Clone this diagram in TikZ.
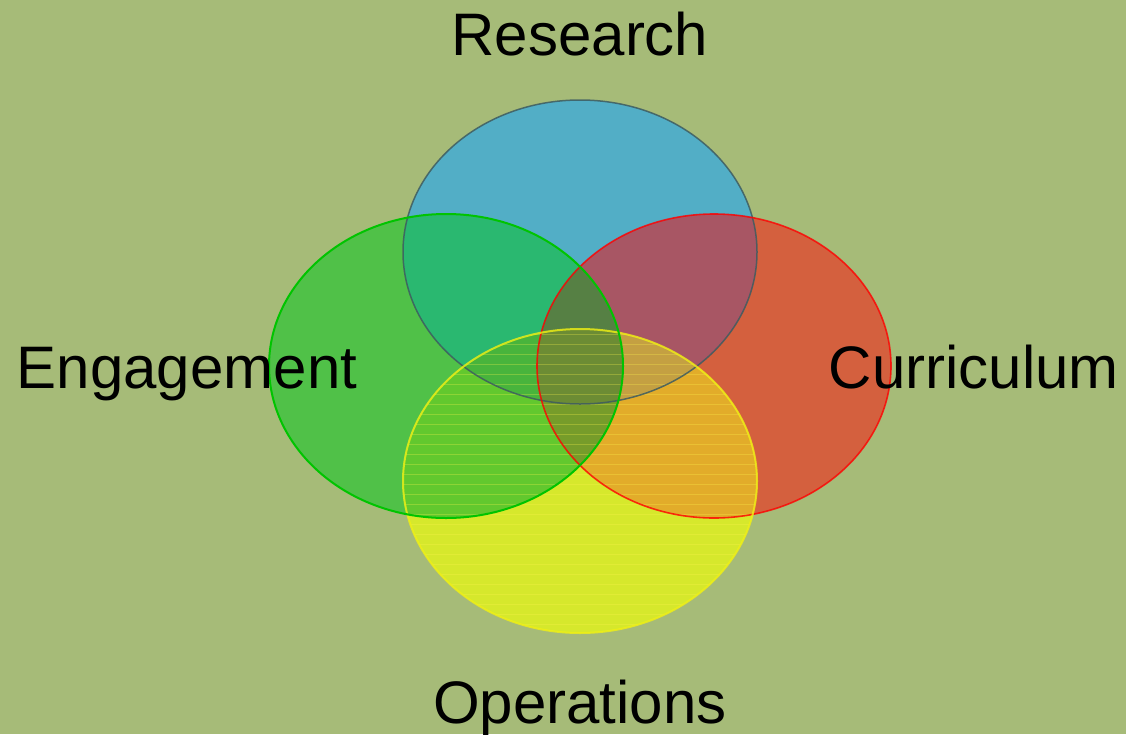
\documentclass[tikz,border=0pt]{standalone}
\usepackage{fontspec}
\setmainfont{Liberation Sans}
\definecolor{bg}{RGB}{166,187,120}
\definecolor{cB}{RGB}{82,174,198}
\definecolor{cG}{RGB}{80,193,72}
\definecolor{cR}{RGB}{212,96,62}
\definecolor{cY}{RGB}{214,232,44}
\definecolor{cBG}{RGB}{42,184,112}
\definecolor{cBR}{RGB}{168,86,100}
\definecolor{cGY}{RGB}{98,200,46}
\definecolor{cRY}{RGB}{226,172,42}
\definecolor{cBGR}{RGB}{86,128,68}
\definecolor{cBGY}{RGB}{72,180,60}
\definecolor{cBRY}{RGB}{196,160,66}
\definecolor{cGRY}{RGB}{118,156,42}
\definecolor{cBGRY}{RGB}{108,140,52}
\definecolor{lB}{RGB}{62,92,96}
\definecolor{lG}{RGB}{0,196,0}
\definecolor{lR}{RGB}{255,0,0}
\definecolor{lY}{RGB}{240,240,20}
\begin{document}
\begin{tikzpicture}[x=1pt,y=-1pt,
  lbl/.style={font=\fontsize{60}{72}\selectfont, text=black, inner sep=0pt, anchor=base}]
\def\EB{(580,252) ellipse [x radius=177pt, y radius=152pt]}
\def\EG{(446,366) ellipse [x radius=177pt, y radius=152pt]}
\def\ER{(714,366) ellipse [x radius=177pt, y radius=152pt]}
\def\EY{(580,481) ellipse [x radius=177pt, y radius=152pt]}
\useasboundingbox (0,0) rectangle (1126,734);
\fill[bg] (0,0) rectangle (1126,734);
% single regions
\fill[cB] \EB;
\fill[cG] \EG;
\fill[cR] \ER;
\fill[cY] \EY;
% pairs
\begin{scope}\clip \EB; \fill[cBG] \EG; \end{scope}
\begin{scope}\clip \EB; \fill[cBR] \ER; \end{scope}
\begin{scope}\clip \EG; \fill[cGY] \EY; \end{scope}
\begin{scope}\clip \ER; \fill[cRY] \EY; \end{scope}
% triples
\begin{scope}\clip \EB; \clip \EG; \fill[cBGR] \ER; \end{scope}
\begin{scope}\clip \EB; \clip \EG; \fill[cBGY] \EY; \end{scope}
\begin{scope}\clip \EB; \clip \ER; \fill[cBRY] \EY; \end{scope}
\begin{scope}\clip \EG; \clip \ER; \fill[cGRY] \EY; \end{scope}
% all four
\begin{scope}\clip \EB; \clip \EG; \clip \ER; \fill[cBGRY] \EY; \end{scope}
% stripes of the yellow ellipse
\begin{scope}
  \clip \EY;
  \foreach \yy in {334,344,...,634} {
    \draw[yellow!70!white, opacity=0.28, line width=1pt] (400,\yy) -- (760,\yy);
  }
\end{scope}
% outlines
\draw[lB, line width=1.5pt, opacity=0.85] \EB;
\draw[lR, line width=1.6pt, opacity=0.8] \ER;
\draw[lY, line width=2pt, opacity=0.8] \EY;
\draw[lG, line width=2pt] \EG;
% labels
\node[lbl] (research) at (580,55) {Research};
\node[lbl] (engagement) at (187,388) {Engagement};
\node[lbl] (curriculum) at (974,388) {Curriculum};
\node[lbl] (operations) at (580,723) {Operations};
\end{tikzpicture}
\end{document}
